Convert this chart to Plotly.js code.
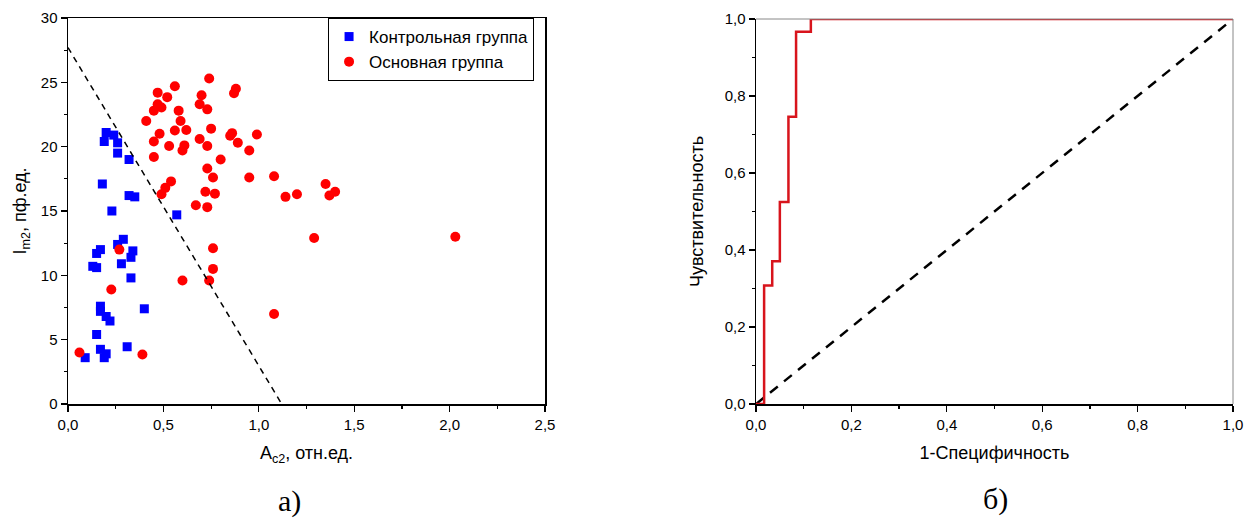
<!DOCTYPE html>
<html><head><meta charset="utf-8">
<script src="https://cdn.plot.ly/plotly-3.0.1.min.js"></script>
<style>body{margin:0;background:#fff}#c{width:1255px;height:519px}</style>
</head><body><div id="c"></div>
<script>
const blueX = [0.20,0.24,0.19,0.26,0.26,0.32,0.18,0.32,0.35,0.23,0.57,0.29,0.26,0.17,0.15,0.34,0.33,0.13,0.15,0.28,0.33,0.17,0.17,0.20,0.22,0.40,0.15,0.17,0.20,0.19,0.31,0.09];
const blueY = [21.1,20.9,20.4,20.3,19.5,19.0,17.1,16.2,16.1,15.0,14.7,12.8,12.4,12.0,11.7,11.9,11.4,10.7,10.6,10.9,9.8,7.6,7.2,6.8,6.45,7.4,5.4,4.25,3.9,3.6,4.45,3.6];
const redX = [0.06,0.39,0.227,0.269,0.60,0.74,0.76,0.76,1.08,1.29,2.03,0.67,0.73,0.49,0.51,0.54,0.72,0.77,0.76,0.73,0.80,0.95,1.08,1.14,1.20,1.35,1.37,1.40,0.45,0.45,0.53,0.61,0.60,0.73,0.89,0.95,0.48,0.56,0.62,0.69,0.75,0.86,0.85,0.99,0.41,0.59,0.45,0.47,0.49,0.58,0.69,0.73,0.47,0.52,0.56,0.70,0.74,0.87,0.88];
const redY = [4.0,3.85,8.9,12.0,9.6,9.6,10.5,12.1,7.0,12.9,13.0,15.45,15.3,16.3,16.8,17.3,16.5,16.35,17.6,18.3,19.0,17.6,17.7,16.1,16.3,17.1,16.2,16.5,19.2,20.4,20.05,20.1,19.7,20.05,20.3,19.7,21.0,21.25,21.3,20.6,21.4,21.05,20.85,20.95,22.0,22.0,22.8,23.3,23.05,22.8,23.3,22.9,24.2,23.85,24.7,24.0,25.3,24.15,24.5];
const cutX = [0, 1.12];
const cutY = [27.7, 0];
const rocFpr = [0,0.017,0.034,0.050,0.068,0.084,0.115,1];
const rocTpr = [0,0.308,0.371,0.525,0.746,0.967,1,1];
const diagX = [0,1];
const diagY = [0,1];
const legendNames = ['Контрольная группа','Основная группа'];
const captions = ['а)','б)'];

const F = 'Liberation Sans, Arial, sans-serif';
const traces = [
  {x: blueX, y: blueY, type:'scatter', mode:'markers', name: legendNames[0], xaxis:'x', yaxis:'y',
   marker:{symbol:'square', size:9, color:'#0000ff'}},
  {x: redX, y: redY, type:'scatter', mode:'markers', name: legendNames[1], xaxis:'x', yaxis:'y',
   marker:{symbol:'circle', size:10, color:'#ff0000'}},
  {x: cutX, y: cutY, type:'scatter', mode:'lines', showlegend:false, xaxis:'x', yaxis:'y',
   line:{color:'#000', width:1.5, dash:'6px,5px'}},
  {x: diagX, y: diagY, type:'scatter', mode:'lines', showlegend:false, xaxis:'x2', yaxis:'y2',
   line:{color:'#000', width:2.5, dash:'10px,8px'}},
  {x: rocFpr, y: rocTpr, type:'scatter', mode:'lines', showlegend:false, xaxis:'x2', yaxis:'y2',
   line:{color:'#d8141c', width:2.5, shape:'hv'}}
];
const TF = {family:F, size:18, color:'#000'};
const axBase = {showgrid:false, zeroline:false, showline:true, linecolor:'#000', linewidth:1.5,
  ticks:'outside', ticklen:6, tickwidth:1.2, tickcolor:'#000', tickfont:{family:F, size:15, color:'#000'}};
const layout = {
  width:1255, height:519, margin:{l:0,r:0,t:0,b:0}, paper_bgcolor:'#fff', plot_bgcolor:'#fff',
  separators:', ', font:{family:F, color:'#000'},
  showlegend:true,
  legend:{x:0.2614, y:0.9653, xanchor:'left', yanchor:'top', bordercolor:'#000', borderwidth:1,
    bgcolor:'#fff', font:{family:F, size:17, color:'#000'}, tracegroupgap:0, itemwidth:30},
  xaxis: Object.assign({}, axBase, {domain:[68/1255, 545/1255], range:[0,2.5], dtick:0.5, tick0:0, tickformat:'.1f',
    mirror:true, anchor:'y',
    minor:{dtick:0.25, ticklen:3, ticks:'outside', tickcolor:'#000'},
    title:{text:'A<sub>c2</sub>, отн.ед.', font:TF, standoff:15}}),
  yaxis: Object.assign({}, axBase, {domain:[115/519, 501/519], range:[0,30], dtick:5, tick0:0,
    mirror:true, anchor:'x',
    minor:{dtick:2.5, ticklen:3, ticks:'outside', tickcolor:'#000'},
    title:{text:'I<sub>m2</sub>, пф.ед.', font:TF, standoff:9}}),
  xaxis2: Object.assign({}, axBase, {domain:[756/1255, 1233/1255], range:[0,1], dtick:0.2, tick0:0, tickformat:'.1f',
    anchor:'y2',
    minor:{dtick:0.1, ticklen:3, ticks:'outside', tickcolor:'#000'},
    title:{text:'1-Специфичность', font:TF, standoff:15}}),
  yaxis2: Object.assign({}, axBase, {domain:[115/519, 500/519], range:[0,1], dtick:0.2, tick0:0, tickformat:'.1f',
    anchor:'x2',
    minor:{dtick:0.1, ticklen:3, ticks:'outside', tickcolor:'#000'},
    title:{text:'Чувствительность', font:TF, standoff:16}}),
  shapes:[
    {type:'line', xref:'x2 domain', yref:'y2 domain', x0:0, x1:1, y0:1, y1:1, line:{color:'#888', width:1}},
    {type:'line', xref:'x2 domain', yref:'y2 domain', x0:1, x1:1, y0:0, y1:1, line:{color:'#888', width:1}}
  ],
  annotations:[
    {text:captions[0], xref:'paper', yref:'paper', x:289/1255, y:(519-501)/519, xanchor:'center', yanchor:'middle', showarrow:false,
     font:{family:'Liberation Serif, Times New Roman, serif', size:30, color:'#000'}},
    {text:captions[1], xref:'paper', yref:'paper', x:995/1255, y:(519-499)/519, xanchor:'center', yanchor:'middle', showarrow:false,
     font:{family:'Liberation Serif, Times New Roman, serif', size:30, color:'#000'}}
  ]
};
Plotly.newPlot('c', traces, layout, {displayModeBar:false, staticPlot:true});
</script></body></html>
